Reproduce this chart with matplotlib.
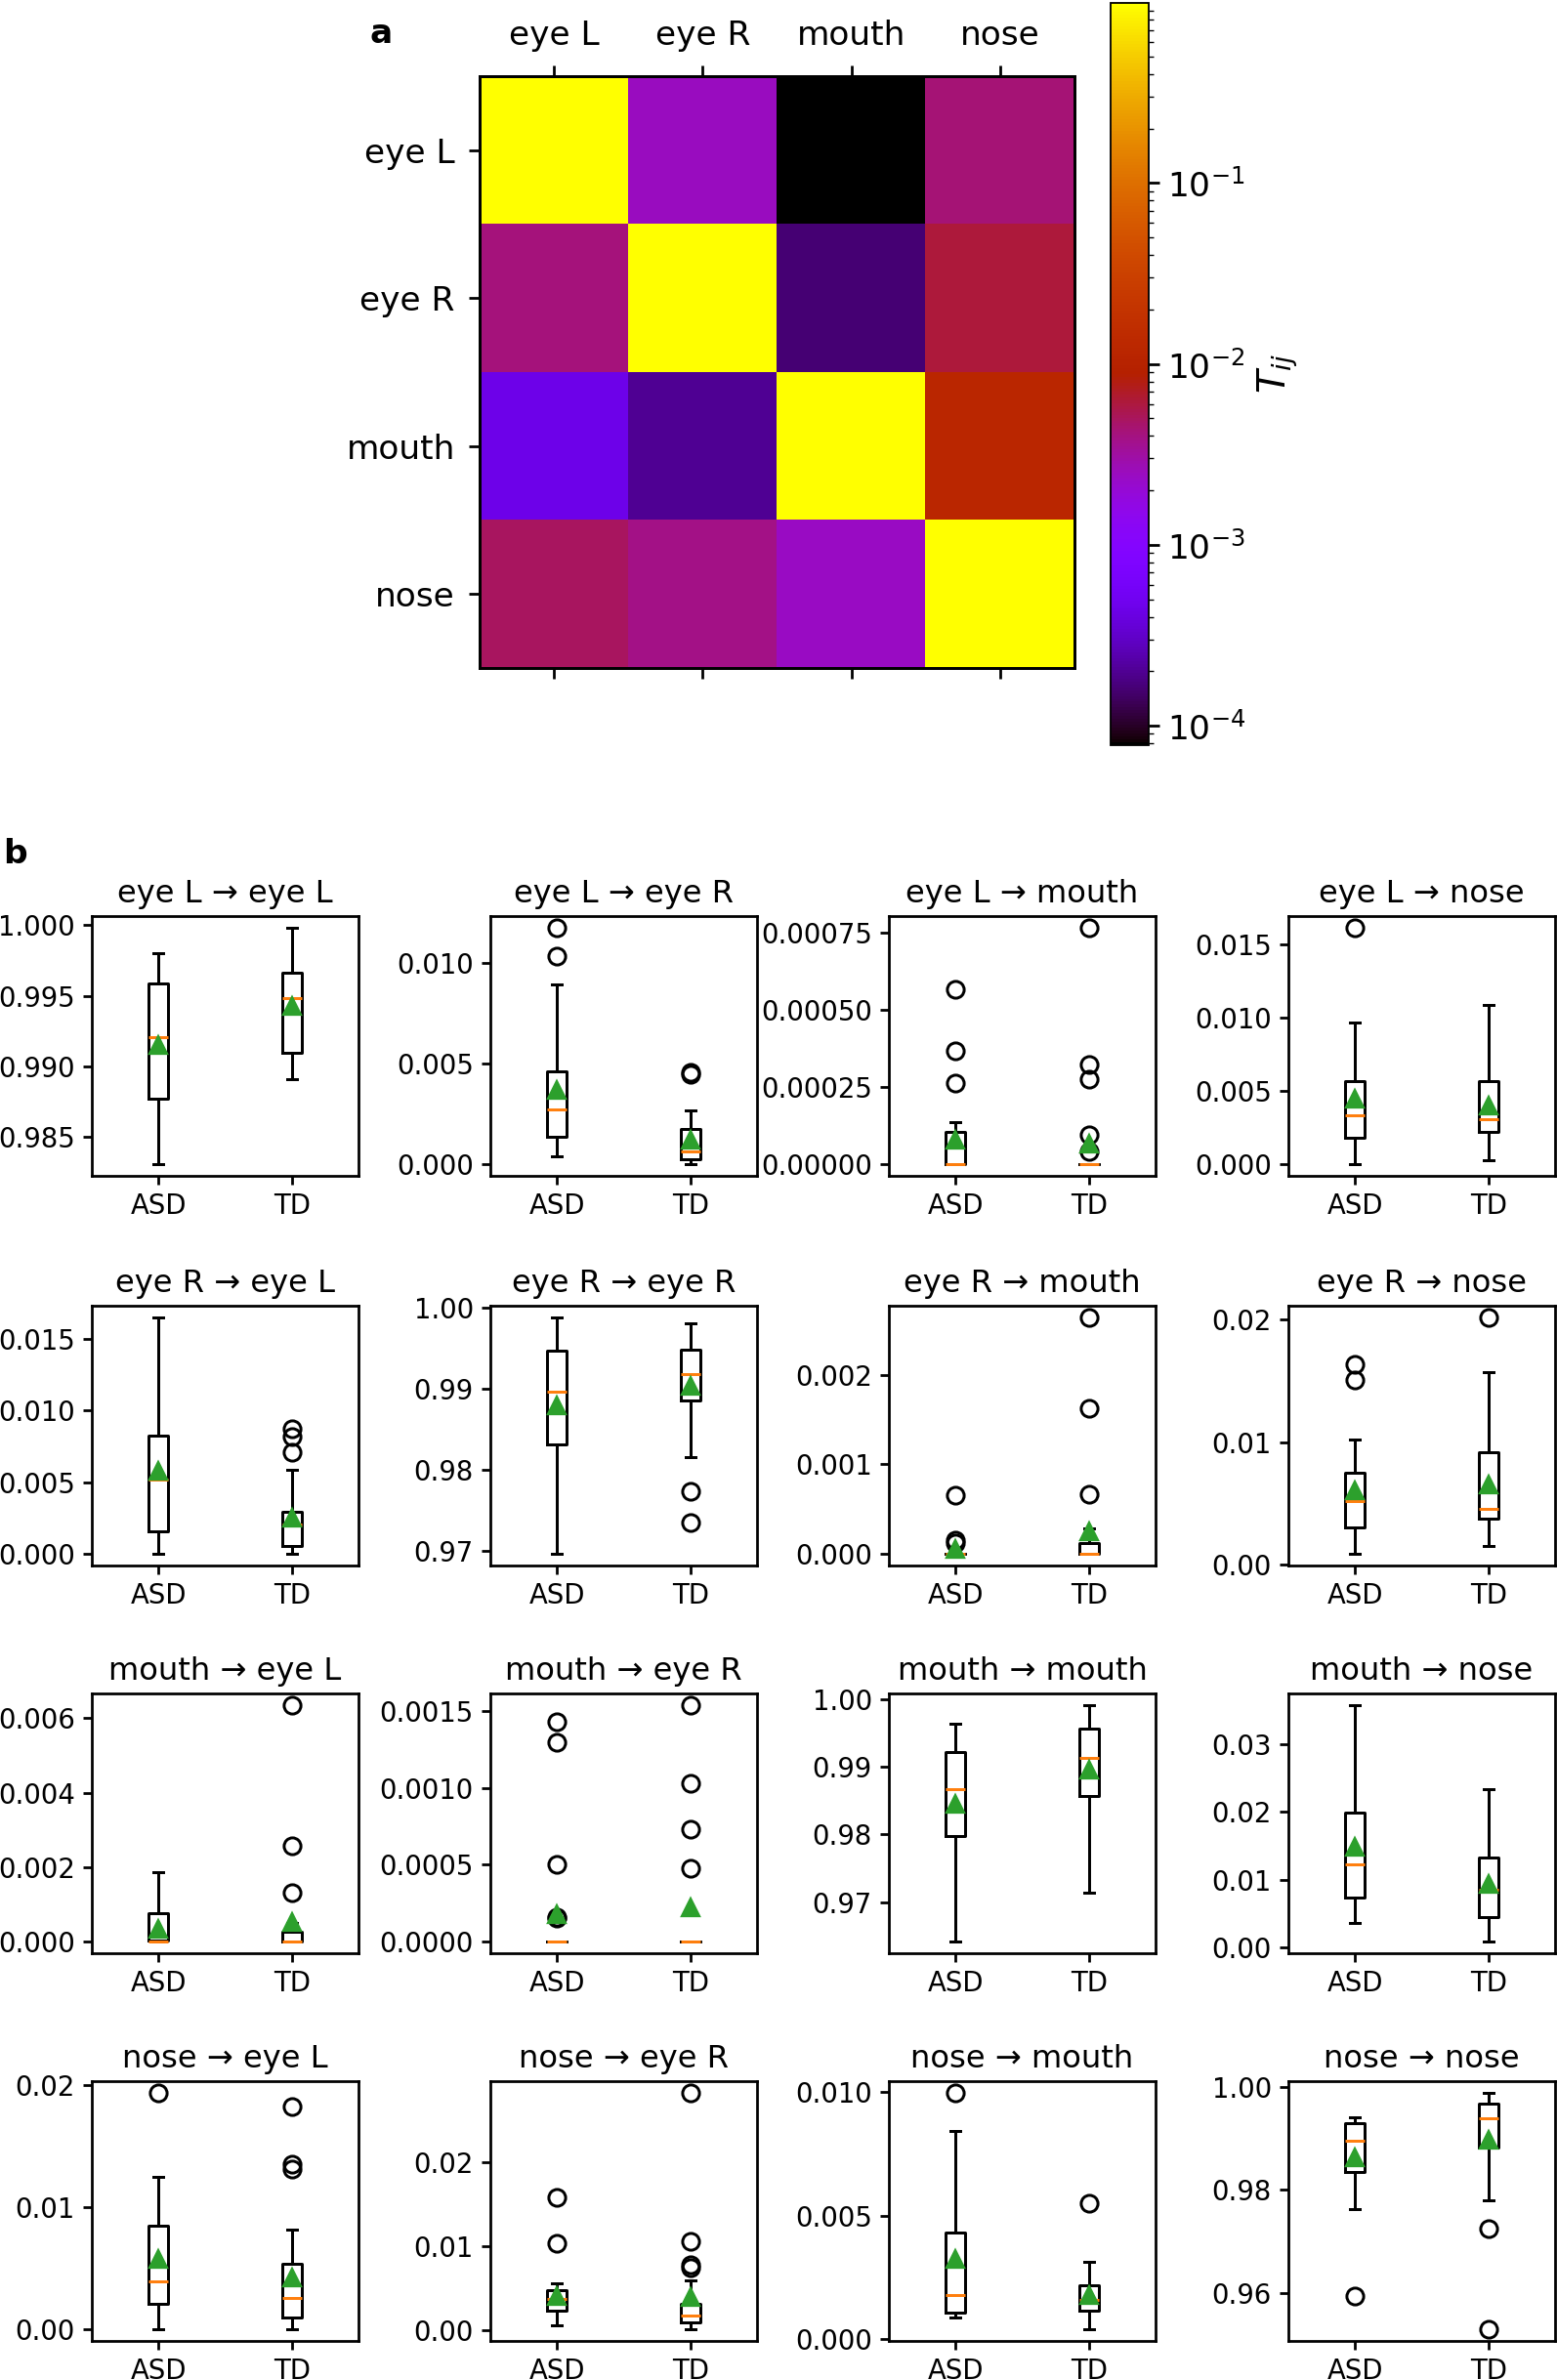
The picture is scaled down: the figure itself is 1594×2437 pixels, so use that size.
import numpy as np
import matplotlib
matplotlib.use("Agg")
import matplotlib.pyplot as plt
from matplotlib.colors import LogNorm
from matplotlib.ticker import MaxNLocator

# regions of interest
regions = ['eye L', 'eye R', 'mouth', 'nose']
groups = ['ASD', 'TD']

# mean transition matrix T_ij (row = from, col = to)
transition = [[0.993, 0.0025, 7e-5, 0.0043],
              [0.0042, 0.989, 0.00016, 0.0062],
              [0.00045, 0.0002, 0.987, 0.012],
              [0.005, 0.0038, 0.0024, 0.988]]

# box stats per panel, row-major order (eyeL->eyeL, eyeL->eyeR, ...)
asd_lo = [0.9831, 0.00037, 0.0, 0.0, 0.0, 0.96968, 0.0, 0.00086,
          0.0, 0.0, 0.96418, 0.00353, 0.0, 0.00066, 0.00088, 0.97627]
asd_q1 = [0.9877, 0.00138, 0.0, 0.00179, 0.00155, 0.98309, 0.0, 0.00302,
          0.00002, 0.0, 0.97971, 0.0074, 0.00204, 0.00241, 0.00108, 0.98354]
asd_med = [0.9921, 0.00273, 0.0, 0.00335, 0.00521, 0.98961, 0.0, 0.00514,
           0.0, 0.0, 0.9867, 0.01229, 0.00391, 0.0037, 0.00177, 0.98956]
asd_q3 = [0.9959, 0.0046, 0.000103, 0.0057, 0.00825, 0.99464, 0.0, 0.0075,
          0.00075, 0.0, 0.99218, 0.01988, 0.00845, 0.00475, 0.00433, 0.99297]
asd_hi = [0.9980, 0.00893, 0.000135, 0.00966, 0.0165, 0.99875, 0.0, 0.01023,
          0.00187, 0.0, 0.99646, 0.0358, 0.01249, 0.00564, 0.00843, 0.99405]
asd_mean = [0.9915, 0.0037, 0.00008, 0.00447, 0.00578, 0.98792, 0.00005, 0.00602,
            0.00035, 0.00018, 0.98456, 0.0149, 0.00571, 0.00416, 0.00323, 0.98627]
asd_fliers = [[], [0.01176, 0.01037], [0.000566, 0.000365, 0.000262], [0.01616],
              [], [], [0.00065, 0.000155, 0.00012], [0.01633, 0.01507],
              [], [0.00143, 0.0013, 0.000502, 0.00016, 0.00015], [], [],
              [0.01933], [0.01591, 0.01039], [0.00997], [0.95937]]

td_lo = [0.9891, 0.0, 0.0, 0.00027, 0.0, 0.98156, 0.0, 0.00147,
         0.0, 0.0, 0.97146, 0.00087, 0.0, 0.00016, 0.0004, 0.97804]
td_q1 = [0.9910, 0.00024, 0.0, 0.00217, 0.00053, 0.9886, 0.0, 0.00375,
         0.0, 0.0, 0.98573, 0.0044, 0.00094, 0.00093, 0.00113, 0.98816]
td_med = [0.9948, 0.00063, 0.0, 0.00306, 0.00201, 0.99183, 0.0, 0.0045,
          0.0, 0.0, 0.99141, 0.00851, 0.00255, 0.00175, 0.00157, 0.99386]
td_q3 = [0.9966, 0.00174, 0.0, 0.0057, 0.00295, 0.99476, 0.00012, 0.00918,
         0.00026, 0.0, 0.99563, 0.01321, 0.00536, 0.00319, 0.00219, 0.99671]
td_hi = [0.9998, 0.00265, 0.0, 0.01088, 0.00583, 0.99807, 0.000285, 0.01574,
         0.0005, 0.0, 0.99913, 0.02337, 0.00812, 0.00591, 0.00313, 0.9988]
td_mean = [0.9943, 0.00122, 0.000067, 0.00402, 0.00251, 0.99034, 0.00025, 0.00656,
           0.00053, 0.000224, 0.98966, 0.00934, 0.00424, 0.00397, 0.00177, 0.98975]
td_fliers = [[], [0.00455, 0.00447], [0.000764, 0.000323, 0.000275, 0.000095, 0.00004], [],
             [0.0087, 0.0082, 0.0071], [0.97733, 0.97354], [0.00264, 0.00163, 0.00066], [0.02018],
             [0.00635, 0.00258, 0.00131], [0.00154, 0.00103, 0.00073, 0.000474], [], [],
             [0.01823, 0.01349, 0.01308], [0.02829, 0.01058, 0.00786, 0.00747], [0.00552],
             [0.97253, 0.95304]]

W, H = 1594, 2437
DPI = 165
fig = plt.figure(figsize=(W / DPI, H / DPI), dpi=DPI)


def px_axes(x0, y0, x1, y1):
    # pixel box (top-left origin) -> figure axes
    return fig.add_axes([x0 / W, 1 - y1 / H, (x1 - x0) / W, (y1 - y0) / H])


# ---- panel a: heatmap
ax = px_axes(491, 78, 1100, 684)
im = ax.imshow(np.array(transition), cmap='gnuplot',
               norm=LogNorm(vmin=7.8e-5, vmax=0.99), aspect='auto')
ax.set_xticks(range(4))
ax.set_yticks(range(4))
ax.set_xticklabels(regions, fontsize=15)
ax.set_yticklabels(regions, fontsize=15)
ax.xaxis.tick_top()
ax.tick_params(axis='x', bottom=True, top=True, labelbottom=False, labeltop=True)
ax.tick_params(length=5, width=1.2, pad=6)
for sp in ax.spines.values():
    sp.set_linewidth(1.3)
cax = px_axes(1137, 3, 1176, 763)
cb = fig.colorbar(im, cax=cax)
cb.ax.tick_params(labelsize=15)
cb.ax.tick_params(which='major', length=5, width=1.2)
cb.set_label('$T_{ij}$', fontsize=17)
fig.text(390 / W, 1 - 34 / H, 'a', fontsize=15, fontweight='bold', ha='center', va='center')

# ---- panel b: boxplots
col_x = [94, 502, 910, 1319]
row_y = [938, 1337, 1734, 2131]
bw, bh = 273, 266
lw = 1.3
for k in range(16):
    r, c = divmod(k, 4)
    ax = px_axes(col_x[c], row_y[r], col_x[c] + bw, row_y[r] + bh)
    stats = [
        dict(med=asd_med[k], q1=asd_q1[k], q3=asd_q3[k], whislo=asd_lo[k],
             whishi=asd_hi[k], mean=asd_mean[k], fliers=asd_fliers[k], label=groups[0]),
        dict(med=td_med[k], q1=td_q1[k], q3=td_q3[k], whislo=td_lo[k],
             whishi=td_hi[k], mean=td_mean[k], fliers=td_fliers[k], label=groups[1]),
    ]
    ax.bxp(stats, showmeans=True,
           boxprops=dict(linewidth=lw), whiskerprops=dict(linewidth=lw),
           capprops=dict(linewidth=lw), medianprops=dict(linewidth=lw, color='C1'),
           meanprops=dict(marker='^', markersize=7.5, markerfacecolor='C2',
                          markeredgecolor='C2'),
           flierprops=dict(marker='o', markersize=7.5, markeredgewidth=1.3,
                           markerfacecolor='none'))
    ax.yaxis.set_major_locator(MaxNLocator(nbins=4, steps=[1, 2, 2.5, 5, 10]))
    ax.set_title(f'{regions[r]} \u2192 {regions[c]}', fontsize=14)
    ax.tick_params(labelsize=12, width=1.2, length=4)
    for sp in ax.spines.values():
        sp.set_linewidth(1.2)

fig.text(3 / W, 1 - 875 / H, 'b', fontsize=15, fontweight='bold', ha='left', va='center')

fig.savefig('out.png', dpi=DPI)
